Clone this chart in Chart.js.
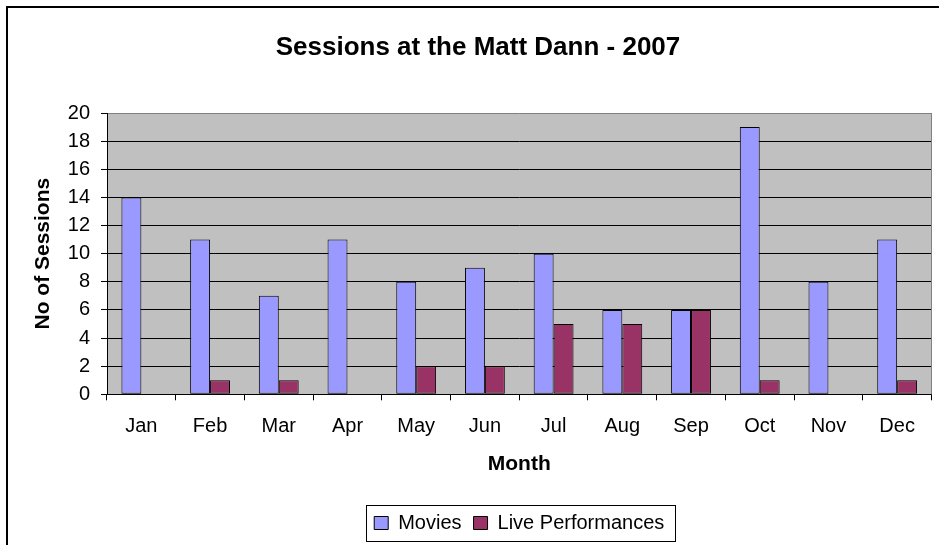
<!DOCTYPE html>
<html>
<head>
<meta charset="utf-8">
<script src="https://cdn.jsdelivr.net/npm/chart.js@4/dist/chart.umd.min.js"></script>
<style>
  html, body { margin: 0; padding: 0; background: #fff; }
  #wrap { width: 939px; height: 545px; position: relative; }
</style>
</head>
<body>
<div id="wrap"><canvas id="c" width="939" height="545"></canvas></div>
<script>
// Monthly session counts at the Matt Dann theatre, 2007
const months = ['Jan', 'Feb', 'Mar', 'Apr', 'May', 'Jun', 'Jul', 'Aug', 'Sep', 'Oct', 'Nov', 'Dec'];
const movies = [14, 11, 7, 11, 8, 9, 10, 6, 6, 19, 8, 11];
const livePerformances = [0, 1, 1, 0, 2, 2, 5, 5, 6, 1, 0, 1];
const yTicks = [0, 2, 4, 6, 8, 10, 12, 14, 16, 18, 20];

const FONT = "'Liberation Sans', Arial, sans-serif";

// Outer frame, grey plot background, plot edge and legend outline
const decorations = {
  id: 'decorations',
  beforeDraw(chart) {
    const { ctx, chartArea: a } = chart;
    ctx.save();
    ctx.fillStyle = '#ffffff';
    ctx.fillRect(0, 0, chart.width, chart.height);
    ctx.fillStyle = '#c0c0c0';
    ctx.fillRect(a.left, a.top, a.right - a.left, a.bottom - a.top);
    ctx.strokeStyle = '#000000';
    ctx.lineWidth = 2;
    ctx.beginPath();
    ctx.moveTo(7, chart.height);
    ctx.lineTo(7, 7);
    ctx.lineTo(chart.width, 7);
    ctx.stroke();
    ctx.restore();
  },
  afterDraw(chart) {
    const { ctx, chartArea: a } = chart;
    ctx.save();
    ctx.strokeStyle = '#808080';
    ctx.lineWidth = 1;
    ctx.beginPath();
    ctx.moveTo(Math.round(a.right) - 0.5, a.top);
    ctx.lineTo(Math.round(a.right) - 0.5, a.bottom);
    ctx.stroke();

    const lg = chart.legend;
    if (lg && lg.lineWidths) {
      const pad = lg.options.labels.padding;
      const contentLeft = (lg.left + pad + lg.right - lg.lineWidths[0]) / 2;
      const contentRight = contentLeft + lg.lineWidths[0] - pad;
      const cy = lg.top + pad + 10;
      const x0 = Math.round(contentLeft - 8) + 0.5;
      const x1 = Math.round(contentRight + 11) + 0.5;
      const y0 = Math.round(cy - 18) + 0.5;
      const y1 = Math.round(cy + 18) + 0.5;
      ctx.strokeStyle = '#000000';
      ctx.strokeRect(x0, y0, x1 - x0, y1 - y0);
    }
    ctx.restore();
  }
};

new Chart(document.getElementById('c'), {
  type: 'bar',
  data: {
    labels: months,
    datasets: [
      {
        label: 'Movies',
        data: movies,
        backgroundColor: '#9999ff',
        borderColor: '#000000',
        borderWidth: 1,
        borderSkipped: false,
        categoryPercentage: 0.58,
        barPercentage: 1.0
      },
      {
        label: 'Live Performances',
        data: livePerformances,
        backgroundColor: '#993366',
        borderColor: '#000000',
        borderWidth: 1,
        borderSkipped: false,
        categoryPercentage: 0.58,
        barPercentage: 1.0
      }
    ]
  },
  options: {
    responsive: false,
    animation: false,
    events: [],
    layout: { padding: { left: 24.5, right: 7.5, top: 0, bottom: 2 } },
    plugins: {
      title: {
        display: true,
        text: 'Sessions at the Matt Dann - 2007',
        color: '#000000',
        font: { family: FONT, size: 26, weight: 'bold', lineHeight: 1.2 },
        padding: { top: 32, bottom: 49.8 }
      },
      legend: {
        display: true,
        position: 'bottom',
        fullSize: false,
        labels: {
          color: '#000000',
          font: { family: FONT, size: 20 },
          boxWidth: 14,
          boxHeight: 13,
          padding: 12
        }
      },
      tooltip: { enabled: false }
    },
    scales: {
      x: {
        offset: true,
        grid: {
          offset: true,
          drawOnChartArea: false,
          drawTicks: true,
          tickLength: 6,
          tickColor: '#000000',
          tickWidth: 1
        },
        border: { display: true, color: '#000000', width: 1 },
        ticks: {
          color: '#000000',
          font: { family: FONT, size: 20, lineHeight: 1.2 },
          padding: 14,
          maxRotation: 0,
          autoSkip: false
        },
        title: {
          display: true,
          text: 'Month',
          color: '#000000',
          font: { family: FONT, size: 21, weight: 'bold', lineHeight: 1.2 },
          padding: { top: 0, bottom: 24 }
        },
        afterFit(scale) { scale.height = 106.7; }
      },
      y: {
        min: 0,
        max: 20,
        afterBuildTicks(scale) { scale.ticks = yTicks.map(v => ({ value: v })); },
        grid: {
          color: (c) => (c.tick && c.tick.value === 20 ? '#808080' : '#000000'),
          lineWidth: 1,
          drawTicks: true,
          tickLength: 6,
          tickColor: '#000000'
        },
        border: { display: true, color: '#000000', width: 1 },
        ticks: {
          color: '#000000',
          font: { family: FONT, size: 20, lineHeight: 1.2 },
          padding: 11
        },
        title: {
          display: true,
          text: 'No of Sessions',
          color: '#000000',
          font: { family: FONT, size: 21, weight: 'bold', lineHeight: 1.2 },
          padding: { top: 6, bottom: 0 }
        },
        afterFit(scale) { scale.width = 82.5; }
      }
    }
  },
  plugins: [decorations]
});
</script>
</body>
</html>
